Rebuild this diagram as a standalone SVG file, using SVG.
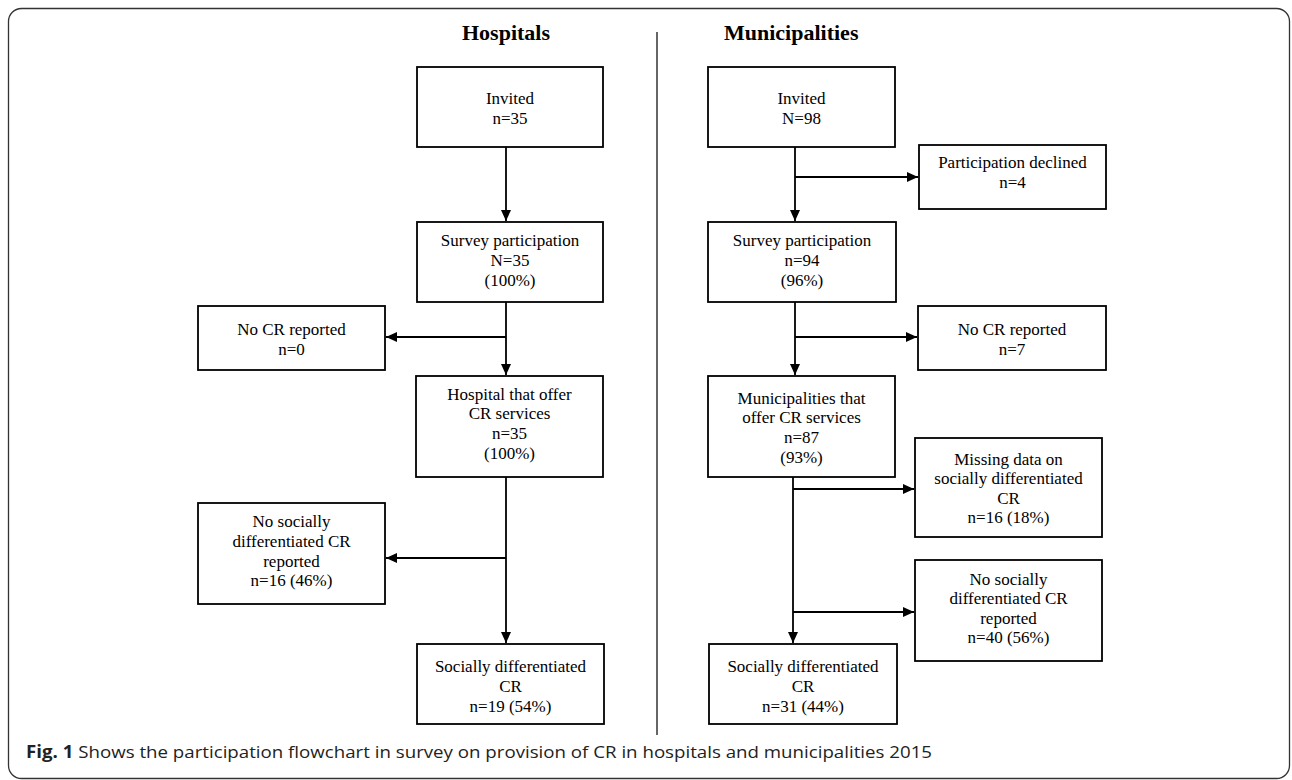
<svg xmlns="http://www.w3.org/2000/svg" width="1292" height="780" viewBox="0 0 1292 780">
<defs>
<marker id="ah" viewBox="0 0 11 10" refX="11" refY="5" markerWidth="11" markerHeight="10" markerUnits="userSpaceOnUse" orient="auto">
<path d="M0,0 L11,5 L0,10 Z" fill="#000"/>
</marker>
<style>
.box{fill:#fff;stroke:#000;stroke-width:1.8}
.t{font-family:"Liberation Serif","Times New Roman",serif;font-size:17px;fill:#000;text-anchor:middle}
.h{font-family:"Liberation Serif","Times New Roman",serif;font-size:22px;font-weight:bold;fill:#000}
.c{fill:none;stroke:#000;stroke-width:1.8}
.cap{font-family:"Open Sans",sans-serif;font-size:17px;fill:#222}
</style>
</defs>
<rect x="8.5" y="8.5" width="1281" height="770" rx="13" ry="13" fill="none" stroke="#333" stroke-width="1.3"/>
<line x1="657" y1="32" x2="657" y2="735" stroke="#333" stroke-width="1.5"/>
<text class="h" x="506" y="40" text-anchor="middle">Hospitals</text>
<text class="h" x="724" y="40">Municipalities</text>

<g id="connectors">
<path class="c" d="M506,147 V221" marker-end="url(#ah)"/>
<path class="c" d="M506,302 V375" marker-end="url(#ah)"/>
<path class="c" d="M506,337 H386" marker-end="url(#ah)"/>
<path class="c" d="M506,477 V643" marker-end="url(#ah)"/>
<path class="c" d="M506,558 H386" marker-end="url(#ah)"/>
<path class="c" d="M795,147 V221" marker-end="url(#ah)"/>
<path class="c" d="M795,177 H918" marker-end="url(#ah)"/>
<path class="c" d="M795,302 V375" marker-end="url(#ah)"/>
<path class="c" d="M795,337 H917" marker-end="url(#ah)"/>
<path class="c" d="M793,477 V643" marker-end="url(#ah)"/>
<path class="c" d="M793,489 H914" marker-end="url(#ah)"/>
<path class="c" d="M793,612 H914" marker-end="url(#ah)"/>
</g>

<g id="h-invited">
<rect class="box" x="417" y="67" width="186" height="80"/>
<text class="t" x="510" y="104">Invited</text>
<text class="t" x="510" y="124">n=35</text>
</g>
<g id="h-survey">
<rect class="box" x="417" y="222" width="186" height="80"/>
<text class="t" x="510" y="246">Survey participation</text>
<text class="t" x="510" y="266">N=35</text>
<text class="t" x="510" y="286">(100%)</text>
</g>
<g id="h-nocr">
<rect class="box" x="198" y="306" width="187" height="64"/>
<text class="t" x="291.5" y="335">No CR reported</text>
<text class="t" x="291.5" y="355">n=0</text>
</g>
<g id="h-offer">
<rect class="box" x="416" y="376" width="187" height="101"/>
<text class="t" x="509.5" y="400">Hospital that offer</text>
<text class="t" x="509.5" y="419">CR services</text>
<text class="t" x="509.5" y="439">n=35</text>
<text class="t" x="509.5" y="459">(100%)</text>
</g>
<g id="h-nosocial">
<rect class="box" x="198" y="503" width="187" height="101"/>
<text class="t" x="291.5" y="527">No socially</text>
<text class="t" x="291.5" y="547">differentiated CR</text>
<text class="t" x="291.5" y="567">reported</text>
<text class="t" x="291.5" y="586">n=16 (46%)</text>
</g>
<g id="h-social">
<rect class="box" x="417" y="644" width="187" height="80"/>
<text class="t" x="510.5" y="672">Socially differentiated</text>
<text class="t" x="510.5" y="692">CR</text>
<text class="t" x="510.5" y="712">n=19 (54%)</text>
</g>

<g id="m-invited">
<rect class="box" x="708" y="67" width="187" height="80"/>
<text class="t" x="801.5" y="104">Invited</text>
<text class="t" x="801.5" y="124">N=98</text>
</g>
<g id="m-declined">
<rect class="box" x="919" y="145" width="187" height="64"/>
<text class="t" x="1012.5" y="168">Participation declined</text>
<text class="t" x="1012.5" y="188">n=4</text>
</g>
<g id="m-survey">
<rect class="box" x="708" y="222" width="188" height="80"/>
<text class="t" x="802" y="246">Survey participation</text>
<text class="t" x="802" y="266">n=94</text>
<text class="t" x="802" y="286">(96%)</text>
</g>
<g id="m-nocr">
<rect class="box" x="918" y="306" width="188" height="64"/>
<text class="t" x="1012" y="335">No CR reported</text>
<text class="t" x="1012" y="355">n=7</text>
</g>
<g id="m-offer">
<rect class="box" x="708" y="376" width="187" height="101"/>
<text class="t" x="801.5" y="404">Municipalities that</text>
<text class="t" x="801.5" y="423">offer CR services</text>
<text class="t" x="801.5" y="443">n=87</text>
<text class="t" x="801.5" y="463">(93%)</text>
</g>
<g id="m-missing">
<rect class="box" x="915" y="438" width="187" height="99"/>
<text class="t" x="1008.5" y="465">Missing data on</text>
<text class="t" x="1008.5" y="484">socially differentiated</text>
<text class="t" x="1008.5" y="504">CR</text>
<text class="t" x="1008.5" y="523">n=16 (18%)</text>
</g>
<g id="m-nosocial">
<rect class="box" x="915" y="560" width="187" height="101"/>
<text class="t" x="1008.5" y="585">No socially</text>
<text class="t" x="1008.5" y="604">differentiated CR</text>
<text class="t" x="1008.5" y="624">reported</text>
<text class="t" x="1008.5" y="643">n=40 (56%)</text>
</g>
<g id="m-social">
<rect class="box" x="709" y="644" width="188" height="80"/>
<text class="t" x="803" y="672">Socially differentiated</text>
<text class="t" x="803" y="692">CR</text>
<text class="t" x="803" y="712">n=31 (44%)</text>
</g>

<text class="cap" x="26" y="758" textLength="906" lengthAdjust="spacingAndGlyphs"><tspan font-weight="bold">Fig. 1</tspan> Shows the participation flowchart in survey on provision of CR in hospitals and municipalities 2015</text>
</svg>
